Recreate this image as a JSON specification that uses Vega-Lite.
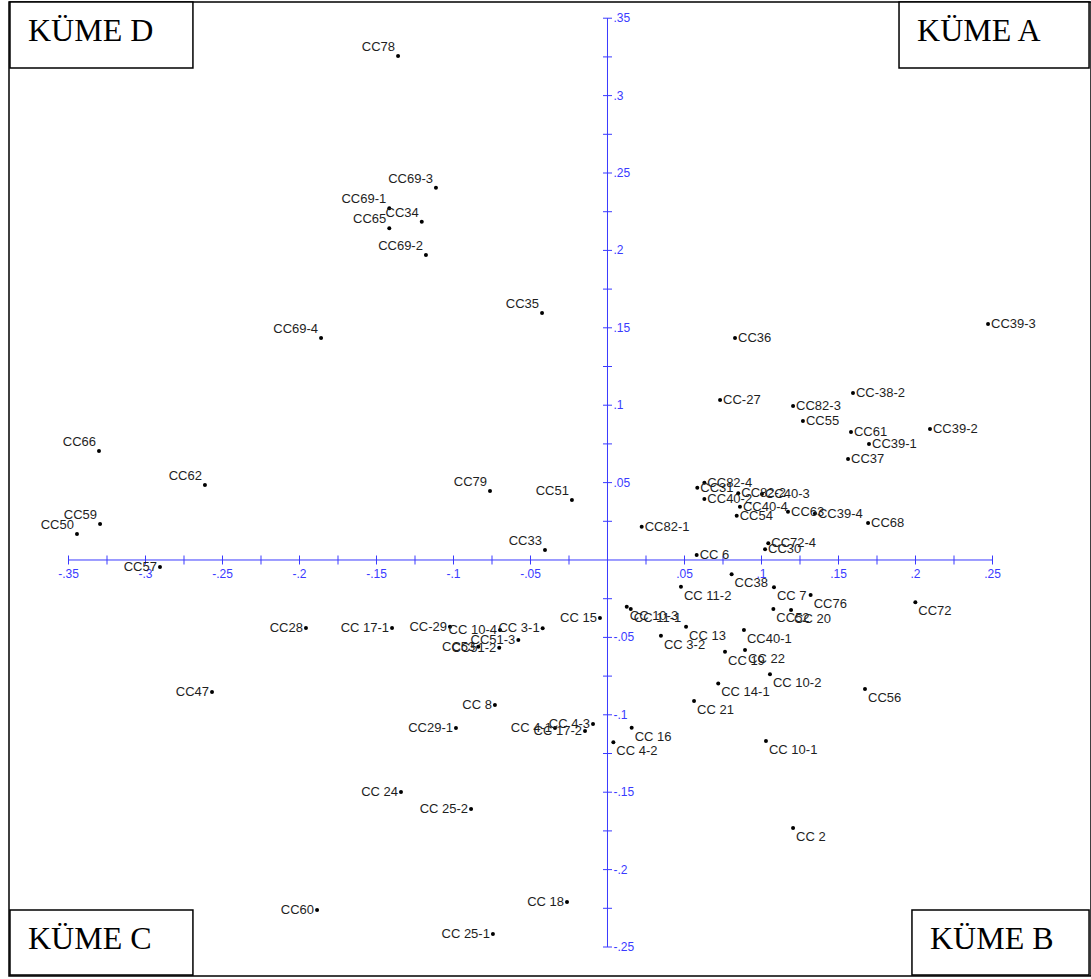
{
  "$schema": "https://vega.github.io/schema/vega-lite/v6.json",
  "width": 1082,
  "height": 974,
  "autosize": {"type": "none"},
  "padding": {"left": 9, "top": 2, "right": 0, "bottom": 3},
  "background": "white",
  "config": {"view": {"stroke": "#000000", "strokeWidth": 1.5}},
  "datasets": {
    "pts": [
      {"name": "CC78", "x": -0.1360, "y": 0.3256},
      {"name": "CC69-3", "x": -0.1114, "y": 0.2405},
      {"name": "CC69-1", "x": -0.1417, "y": 0.2272},
      {"name": "CC34", "x": -0.1206, "y": 0.2185},
      {"name": "CC65", "x": -0.1417, "y": 0.2143},
      {"name": "CC69-2", "x": -0.1179, "y": 0.1970},
      {"name": "CC35", "x": -0.0425, "y": 0.1596},
      {"name": "CC69-4", "x": -0.1860, "y": 0.1434},
      {"name": "CC66", "x": -0.3302, "y": 0.0704},
      {"name": "CC62", "x": -0.2614, "y": 0.0484},
      {"name": "CC79", "x": -0.0763, "y": 0.0446},
      {"name": "CC51", "x": -0.0231, "y": 0.0388},
      {"name": "CC59", "x": -0.3295, "y": 0.0233},
      {"name": "CC50", "x": -0.3445, "y": 0.0168},
      {"name": "CC33", "x": -0.0406, "y": 0.0065},
      {"name": "CC57", "x": -0.2906, "y": -0.0045},
      {"name": "CC28", "x": -0.1958, "y": -0.0439},
      {"name": "CC 17-1", "x": -0.1399, "y": -0.0439},
      {"name": "CC-29", "x": -0.1023, "y": -0.0431},
      {"name": "CC 10-4", "x": -0.0698, "y": -0.0452},
      {"name": "CC 3-1", "x": -0.0421, "y": -0.0441},
      {"name": "CC51-3", "x": -0.0579, "y": -0.0517},
      {"name": "CC53", "x": -0.0839, "y": -0.0560},
      {"name": "CC51-2", "x": -0.0703, "y": -0.0567},
      {"name": "CC 15", "x": -0.0049, "y": -0.0375},
      {"name": "CC47", "x": -0.2568, "y": -0.0853},
      {"name": "CC 8", "x": -0.0731, "y": -0.0937},
      {"name": "CC29-1", "x": -0.0984, "y": -0.1085},
      {"name": "CC 4-1", "x": -0.0341, "y": -0.1085},
      {"name": "CC 17-2", "x": -0.0146, "y": -0.1105},
      {"name": "CC 4-3", "x": -0.0094, "y": -0.1059},
      {"name": "CC 24", "x": -0.1341, "y": -0.1499},
      {"name": "CC 25-2", "x": -0.0886, "y": -0.1609},
      {"name": "CC60", "x": -0.1886, "y": -0.2261},
      {"name": "CC 18", "x": -0.0263, "y": -0.2209},
      {"name": "CC 25-1", "x": -0.0744, "y": -0.2416},
      {"name": "CC36", "x": 0.0828, "y": 0.1434},
      {"name": "CC-27", "x": 0.0731, "y": 0.1034},
      {"name": "CC39-3", "x": 0.2471, "y": 0.1525},
      {"name": "CC-38-2", "x": 0.1594, "y": 0.1079},
      {"name": "CC82-3", "x": 0.1205, "y": 0.0995},
      {"name": "CC55", "x": 0.1269, "y": 0.0898},
      {"name": "CC61", "x": 0.1581, "y": 0.0827},
      {"name": "CC39-2", "x": 0.2094, "y": 0.0846},
      {"name": "CC39-1", "x": 0.1698, "y": 0.0749},
      {"name": "CC37", "x": 0.1562, "y": 0.0652},
      {"name": "CC82-4", "x": 0.0629, "y": 0.0499},
      {"name": "CC31", "x": 0.0583, "y": 0.0467},
      {"name": "CC40-2", "x": 0.0629, "y": 0.0394},
      {"name": "CC82-2", "x": 0.0849, "y": 0.0431},
      {"name": "CC40-3", "x": 0.1003, "y": 0.0426},
      {"name": "CC40-4", "x": 0.0860, "y": 0.0344},
      {"name": "CC54", "x": 0.0839, "y": 0.0286},
      {"name": "CC63", "x": 0.1172, "y": 0.0312},
      {"name": "CC39-4", "x": 0.1347, "y": 0.0300},
      {"name": "CC68", "x": 0.1692, "y": 0.0239},
      {"name": "CC82-1", "x": 0.0222, "y": 0.0215},
      {"name": "CC72-4", "x": 0.1044, "y": 0.0108},
      {"name": "CC30", "x": 0.1023, "y": 0.0069},
      {"name": "CC 6", "x": 0.0579, "y": 0.0032},
      {"name": "CC38", "x": 0.0806, "y": -0.0092},
      {"name": "CC 11-2", "x": 0.0477, "y": -0.0172},
      {"name": "CC 7", "x": 0.1081, "y": -0.0176},
      {"name": "CC76", "x": 0.1319, "y": -0.0226},
      {"name": "CC72", "x": 0.1999, "y": -0.0273},
      {"name": "CC 10-3", "x": 0.0125, "y": -0.0302},
      {"name": "CC 11-1", "x": 0.0151, "y": -0.0317},
      {"name": "CC52", "x": 0.1077, "y": -0.0317},
      {"name": "CC 20", "x": 0.1192, "y": -0.0323},
      {"name": "CC 13", "x": 0.0510, "y": -0.0431},
      {"name": "CC 3-2", "x": 0.0347, "y": -0.0489},
      {"name": "CC40-1", "x": 0.0886, "y": -0.0452},
      {"name": "CC 19", "x": 0.0763, "y": -0.0592},
      {"name": "CC 22", "x": 0.0893, "y": -0.0581},
      {"name": "CC 10-2", "x": 0.1055, "y": -0.0738},
      {"name": "CC 14-1", "x": 0.0719, "y": -0.0797},
      {"name": "CC56", "x": 0.1672, "y": -0.0833},
      {"name": "CC 21", "x": 0.0562, "y": -0.0911},
      {"name": "CC 10-1", "x": 0.1029, "y": -0.1169},
      {"name": "CC 2", "x": 0.1205, "y": -0.1731},
      {"name": "CC 16", "x": 0.0157, "y": -0.1083},
      {"name": "CC 4-2", "x": 0.0038, "y": -0.1178}
    ],
    "boxes": [
      {"label": "KÜME D", "x1": -0.388, "x2": -0.2692, "y1": 0.3605, "y2": 0.3178},
      {"label": "KÜME A", "x1": 0.1893, "x2": 0.3127, "y1": 0.3605, "y2": 0.3178},
      {"label": "KÜME C", "x1": -0.388, "x2": -0.2692, "y1": -0.2261, "y2": -0.2681},
      {"label": "KÜME B", "x1": 0.1977, "x2": 0.3127, "y1": -0.2261, "y2": -0.2681}
    ],
    "xticks": [
      {"v": -0.35, "lab": "-.35"}, {"v": -0.325, "lab": ""}, {"v": -0.3, "lab": "-.3"}, {"v": -0.275, "lab": ""},
      {"v": -0.25, "lab": "-.25"}, {"v": -0.225, "lab": ""}, {"v": -0.2, "lab": "-.2"}, {"v": -0.175, "lab": ""},
      {"v": -0.15, "lab": "-.15"}, {"v": -0.125, "lab": ""}, {"v": -0.1, "lab": "-.1"}, {"v": -0.075, "lab": ""},
      {"v": -0.05, "lab": "-.05"}, {"v": -0.025, "lab": ""}, {"v": 0.025, "lab": ""}, {"v": 0.05, "lab": ".05"},
      {"v": 0.075, "lab": ""}, {"v": 0.1, "lab": ".1"}, {"v": 0.125, "lab": ""}, {"v": 0.15, "lab": ".15"},
      {"v": 0.175, "lab": ""}, {"v": 0.2, "lab": ".2"}, {"v": 0.225, "lab": ""}, {"v": 0.25, "lab": ".25"}
    ],
    "yticks": [
      {"v": -0.25, "lab": "-.25"}, {"v": -0.225, "lab": ""}, {"v": -0.2, "lab": "-.2"}, {"v": -0.175, "lab": ""},
      {"v": -0.15, "lab": "-.15"}, {"v": -0.125, "lab": ""}, {"v": -0.1, "lab": "-.1"}, {"v": -0.075, "lab": ""},
      {"v": -0.05, "lab": "-.05"}, {"v": -0.025, "lab": ""}, {"v": 0.025, "lab": ""}, {"v": 0.05, "lab": ".05"},
      {"v": 0.075, "lab": ""}, {"v": 0.1, "lab": ".1"}, {"v": 0.125, "lab": ""}, {"v": 0.15, "lab": ".15"},
      {"v": 0.175, "lab": ""}, {"v": 0.2, "lab": ".2"}, {"v": 0.225, "lab": ""}, {"v": 0.25, "lab": ".25"},
      {"v": 0.275, "lab": ""}, {"v": 0.3, "lab": ".3"}, {"v": 0.325, "lab": ""}, {"v": 0.35, "lab": ".35"}
    ],
    "axlines": [
      {"a1": -0.35, "a2": 0.25, "b1": -0.25, "b2": 0.35, "z": 0}
    ]
  },
  "layer": [
    {
      "data": {"name": "axlines"},
      "mark": {"type": "rule", "color": "#3a3aff", "strokeWidth": 1, "opacity": 1},
      "encoding": {
        "x": {"field": "a1", "type": "quantitative", "axis": null},
        "x2": {"field": "a2"},
        "y": {"field": "z", "type": "quantitative", "axis": null}
      }
    },
    {
      "data": {"name": "axlines"},
      "mark": {"type": "rule", "color": "#3a3aff", "strokeWidth": 1, "opacity": 1},
      "encoding": {
        "y": {"field": "b1", "type": "quantitative", "axis": null},
        "y2": {"field": "b2"},
        "x": {"field": "z", "type": "quantitative", "axis": null}
      }
    },
    {
      "data": {"name": "xticks"},
      "mark": {"type": "tick", "orient": "vertical", "color": "#3a3aff", "size": 9, "thickness": 1, "opacity": 1},
      "encoding": {
        "x": {"field": "v", "type": "quantitative", "axis": null},
        "y": {"datum": 0, "type": "quantitative", "axis": null}
      }
    },
    {
      "data": {"name": "yticks"},
      "mark": {"type": "tick", "orient": "horizontal", "color": "#3a3aff", "size": 9, "thickness": 1, "opacity": 1},
      "encoding": {
        "y": {"field": "v", "type": "quantitative", "axis": null},
        "x": {"datum": 0, "type": "quantitative", "axis": null}
      }
    },
    {
      "data": {"name": "xticks"},
      "mark": {"type": "text", "align": "center", "baseline": "middle", "dy": 14, "font": "Liberation Sans", "fontSize": 12, "color": "#3a3aff"},
      "encoding": {
        "x": {"field": "v", "type": "quantitative", "axis": null},
        "y": {"datum": 0, "type": "quantitative", "axis": null},
        "text": {"field": "lab"}
      }
    },
    {
      "data": {"name": "yticks"},
      "mark": {"type": "text", "align": "left", "baseline": "middle", "dx": 6, "font": "Liberation Sans", "fontSize": 12, "color": "#3a3aff"},
      "encoding": {
        "y": {"field": "v", "type": "quantitative", "axis": null},
        "x": {"datum": 0, "type": "quantitative", "axis": null},
        "text": {"field": "lab"}
      }
    },
    {
      "data": {"name": "pts"},
      "mark": {"type": "circle", "color": "#000000", "opacity": 1, "size": 16},
      "encoding": {
        "x": {
          "field": "x", "type": "quantitative",
          "scale": {"domain": [-0.388636, 0.313961], "nice": false, "zero": false},
          "axis": null
        },
        "y": {
          "field": "y", "type": "quantitative",
          "scale": {"domain": [-0.268734, 0.360465], "nice": false, "zero": false},
          "axis": null
        }
      }
    },
    {
      "data": {"name": "pts"},
      "transform": [{"filter": "datum.x < 0 && datum.y > 0"}],
      "mark": {"type": "text", "align": "right", "baseline": "middle", "dx": -3, "dy": -9, "font": "Liberation Sans", "fontSize": 13, "color": "#1e1e1e"},
      "encoding": {
        "x": {"field": "x", "type": "quantitative", "axis": null},
        "y": {"field": "y", "type": "quantitative", "axis": null},
        "text": {"field": "name"}
      }
    },
    {
      "data": {"name": "pts"},
      "transform": [{"filter": "datum.x < 0 && datum.y <= 0"}],
      "mark": {"type": "text", "align": "right", "baseline": "middle", "dx": -3, "dy": 0, "font": "Liberation Sans", "fontSize": 13, "color": "#1e1e1e"},
      "encoding": {
        "x": {"field": "x", "type": "quantitative", "axis": null},
        "y": {"field": "y", "type": "quantitative", "axis": null},
        "text": {"field": "name"}
      }
    },
    {
      "data": {"name": "pts"},
      "transform": [{"filter": "datum.x >= 0 && datum.y > 0"}],
      "mark": {"type": "text", "align": "left", "baseline": "middle", "dx": 3, "dy": 0, "font": "Liberation Sans", "fontSize": 13, "color": "#1e1e1e"},
      "encoding": {
        "x": {"field": "x", "type": "quantitative", "axis": null},
        "y": {"field": "y", "type": "quantitative", "axis": null},
        "text": {"field": "name"}
      }
    },
    {
      "data": {"name": "pts"},
      "transform": [{"filter": "datum.x >= 0 && datum.y <= 0"}],
      "mark": {"type": "text", "align": "left", "baseline": "middle", "dx": 3, "dy": 9, "font": "Liberation Sans", "fontSize": 13, "color": "#1e1e1e"},
      "encoding": {
        "x": {"field": "x", "type": "quantitative", "axis": null},
        "y": {"field": "y", "type": "quantitative", "axis": null},
        "text": {"field": "name"}
      }
    },
    {
      "data": {"name": "boxes"},
      "mark": {"type": "rect", "fill": "white", "stroke": "#000000", "strokeWidth": 1.5},
      "encoding": {
        "x": {"field": "x1", "type": "quantitative", "axis": null},
        "x2": {"field": "x2"},
        "y": {"field": "y1", "type": "quantitative", "axis": null},
        "y2": {"field": "y2"}
      }
    },
    {
      "data": {"name": "boxes"},
      "mark": {"type": "text", "align": "left", "baseline": "middle", "dx": 18, "dy": 29, "font": "Liberation Serif", "fontSize": 32, "color": "#000000"},
      "encoding": {
        "x": {"field": "x1", "type": "quantitative", "axis": null},
        "y": {"field": "y1", "type": "quantitative", "axis": null},
        "text": {"field": "label"}
      }
    }
  ]
}
